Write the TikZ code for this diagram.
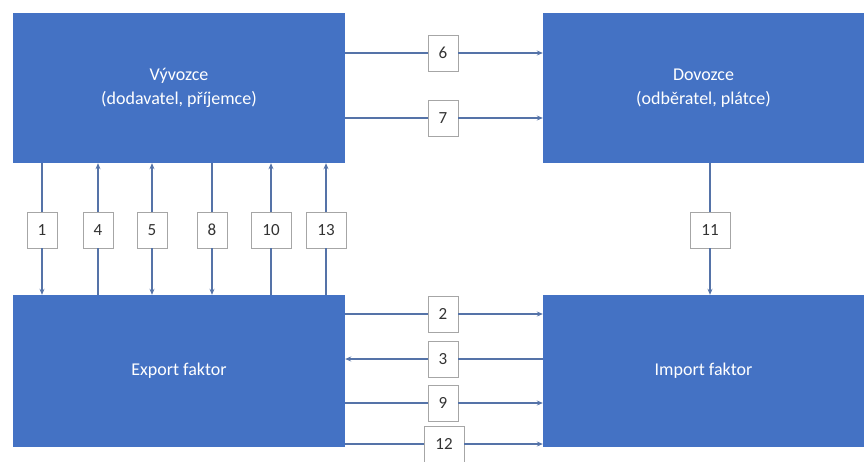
\documentclass[tikz,border=0pt]{standalone}
\usepackage{fontspec}
\setmainfont{Carlito}
\usetikzlibrary{arrows.meta,calc}
\definecolor{boxblue}{HTML}{4472C4}
\definecolor{linecol}{HTML}{5573A8}
\definecolor{labgray}{HTML}{A6A6A6}
\begin{document}
\begin{tikzpicture}[x=1pt,y=-1pt,
  bigbox/.style={fill=boxblue,draw=none,text=white,align=center,font=\fontsize{18}{24}\selectfont,inner sep=0pt},
  numlab/.style={fill=white,draw=labgray,line width=0.8pt,minimum width=30pt,minimum height=36pt,inner sep=2pt,font=\fontsize{17}{20}\selectfont,text=black!80},
  conn/.style={draw=linecol,line width=1.6pt},
  tip/.style={-{Stealth[length=6pt,width=5pt]}}
]
\useasboundingbox (0,0) rectangle (868,461);
\node[bigbox,minimum width=332pt,minimum height=150pt] (vy) at (179,88) {Vývozce\\(dodavatel, příjemce)};
\node[bigbox,minimum width=321pt,minimum height=150pt] (do) at (703.5,88) {Dovozce\\(odběratel, plátce)};
\node[bigbox,minimum width=332pt,minimum height=152pt] (ex) at (179,371) {Export faktor};
\node[bigbox,minimum width=321pt,minimum height=152pt] (im) at (703.5,371) {Import faktor};
% vertical labels
\node[numlab] (l1) at (42,230) {1};
\node[numlab] (l4) at (98,230) {4};
\node[numlab] (l5) at (152,230) {5};
\node[numlab] (l8) at (212,230) {8};
\node[numlab,minimum width=40pt] (l10) at (271,230) {10};
\node[numlab,minimum width=40pt] (l13) at (326,230) {13};
\node[numlab,minimum width=40pt] (l11) at (710,230) {11};
% horizontal labels
\node[numlab] (l6) at (443,53) {6};
\node[numlab] (l7) at (443,118) {7};
\node[numlab] (l2) at (443,314) {2};
\node[numlab] (l3) at (443,359) {3};
\node[numlab] (l9) at (443,403) {9};
\node[numlab,minimum width=40pt] (l12) at (444,444) {12};
% vertical connectors
\draw[conn] (l1) -- (l1 |- vy.south);
\draw[conn,tip] (l1) -- (l1 |- ex.north);
\draw[conn,tip] (l4) -- (l4 |- vy.south);
\draw[conn] (l4) -- (l4 |- ex.north);
\draw[conn,tip] (l5) -- (l5 |- vy.south);
\draw[conn,tip] (l5) -- (l5 |- ex.north);
\draw[conn] (l8) -- (l8 |- vy.south);
\draw[conn,tip] (l8) -- (l8 |- ex.north);
\draw[conn,tip] (l10) -- (l10 |- vy.south);
\draw[conn] (l10) -- (l10 |- ex.north);
\draw[conn,tip] (l13) -- (l13 |- vy.south);
\draw[conn] (l13) -- (l13 |- ex.north);
\draw[conn] (l11) -- (l11 |- do.south);
\draw[conn,tip] (l11) -- (l11 |- im.north);
% horizontal connectors
\draw[conn] (l6) -- (l6 -| vy.east);
\draw[conn,tip] (l6) -- (l6 -| do.west);
\draw[conn] (l7) -- (l7 -| vy.east);
\draw[conn,tip] (l7) -- (l7 -| do.west);
\draw[conn] (l2) -- (l2 -| ex.east);
\draw[conn,tip] (l2) -- (l2 -| im.west);
\draw[conn,tip] (l3) -- (l3 -| ex.east);
\draw[conn] (l3) -- (l3 -| im.west);
\draw[conn] (l9) -- (l9 -| ex.east);
\draw[conn,tip] (l9) -- (l9 -| im.west);
\draw[conn] (l12) -- (l12 -| ex.east);
\draw[conn,tip] (l12) -- (l12 -| im.west);
\end{tikzpicture}
\end{document}
